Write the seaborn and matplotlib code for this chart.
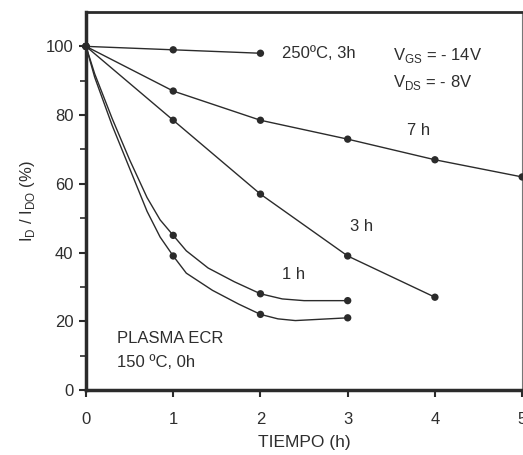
import numpy as np
import matplotlib
matplotlib.use("Agg")
import matplotlib.pyplot as plt
import seaborn as sns

# Datos (tiempo en h, I_D/I_D0 en %)
t_250 = [0, 1, 2]
i_250 = [100, 99, 98]

t_7h = [0, 1, 2, 3, 4, 5]
i_7h = [100, 87, 78.5, 73, 67, 62]

t_3h = [0, 1, 2, 3, 4]
i_3h = [100, 78.5, 57, 39, 27]

# curvas con puntos intermedios (sin marcador)
t_1h = [0, 0.1, 0.3, 0.5, 0.7, 0.85, 1, 1.15, 1.4, 1.7, 2, 2.25, 2.5, 3]
i_1h = [100, 92, 79, 67, 56, 49.5, 45, 40.5, 35.5, 31.5, 28, 26.5, 26, 26]
t_1h_pts = [0, 1, 2, 3]
i_1h_pts = [100, 45, 28, 26]

t_ecr = [0, 0.1, 0.3, 0.5, 0.7, 0.85, 1, 1.15, 1.45, 1.75, 2, 2.2, 2.4, 3]
i_ecr = [100, 91, 77, 64.5, 52, 44.5, 39, 34, 29, 25, 22, 20.7, 20.2, 21]
t_ecr_pts = [0, 1, 2, 3]
i_ecr_pts = [100, 39, 22, 21]

sns.set_style("ticks")
plt.rcParams['font.family'] = ['Liberation Sans', 'DejaVu Sans']
col = '#2b2b2b'
txt = '#2e2e2e'

fig = plt.figure(figsize=(5.23, 4.55), dpi=100)
ax = fig.add_axes([0.1644, 0.1429, 0.834, 0.8307])

for x, y in [(t_250, i_250), (t_7h, i_7h), (t_3h, i_3h), (t_1h, i_1h), (t_ecr, i_ecr)]:
    sns.lineplot(x=x, y=y, ax=ax, sort=False, estimator=None, color=col, lw=1.0)
for x, y in [(t_250, i_250), (t_7h, i_7h), (t_3h, i_3h), (t_1h_pts, i_1h_pts), (t_ecr_pts, i_ecr_pts)]:
    sns.scatterplot(x=x, y=y, ax=ax, color=col, s=28, edgecolor='none', zorder=3, clip_on=False)

ax.set_xlim(0, 5)
ax.set_ylim(0, 110)
ax.set_xticks([0, 1, 2, 3, 4, 5])
ax.set_yticks([0, 20, 40, 60, 80, 100])
ax.set_yticks([10, 30, 50, 70, 90], minor=True)
ax.tick_params(axis='both', which='major', direction='out', length=5, width=1.5, color=col,
               labelsize=12, labelcolor=txt)
ax.tick_params(axis='x', pad=10.5)
ax.tick_params(axis='y', pad=4)
ax.tick_params(axis='y', which='minor', direction='out', length=4, width=1.2, color=col)

for s in ['left', 'bottom']:
    ax.spines[s].set_linewidth(2.5)
    ax.spines[s].set_color(col)
ax.spines['top'].set_linewidth(2.0)
ax.spines['top'].set_color(col)
ax.spines['right'].set_linewidth(0.8)
ax.spines['right'].set_color('#777777')

ax.set_xlabel('TIEMPO (h)', fontsize=12.5, color=txt, labelpad=6)
ax.set_ylabel(r'I$_\mathregular{D}$ / I$_\mathregular{DO}$ (%)', fontsize=12, color=txt, labelpad=6)

fs = 12
ax.text(2.25, 98, '250ºC, 3h', fontsize=fs, color=txt, va='center')
ax.text(3.52, 97.3, r'V$_\mathregular{GS}$ = - 14V', fontsize=fs, color=txt, va='center')
ax.text(3.52, 89.5, r'V$_\mathregular{DS}$ = - 8V', fontsize=fs, color=txt, va='center')
ax.text(3.68, 75.5, '7 h', fontsize=fs, color=txt, va='center')
ax.text(3.03, 47.5, '3 h', fontsize=fs, color=txt, va='center')
ax.text(2.25, 33.5, '1 h', fontsize=fs, color=txt, va='center')
ax.text(0.36, 15, 'PLASMA ECR', fontsize=fs, color=txt, va='center')
ax.text(0.36, 8, '150 ºC, 0h', fontsize=fs, color=txt, va='center')

fig.savefig('out.png', dpi=100)
